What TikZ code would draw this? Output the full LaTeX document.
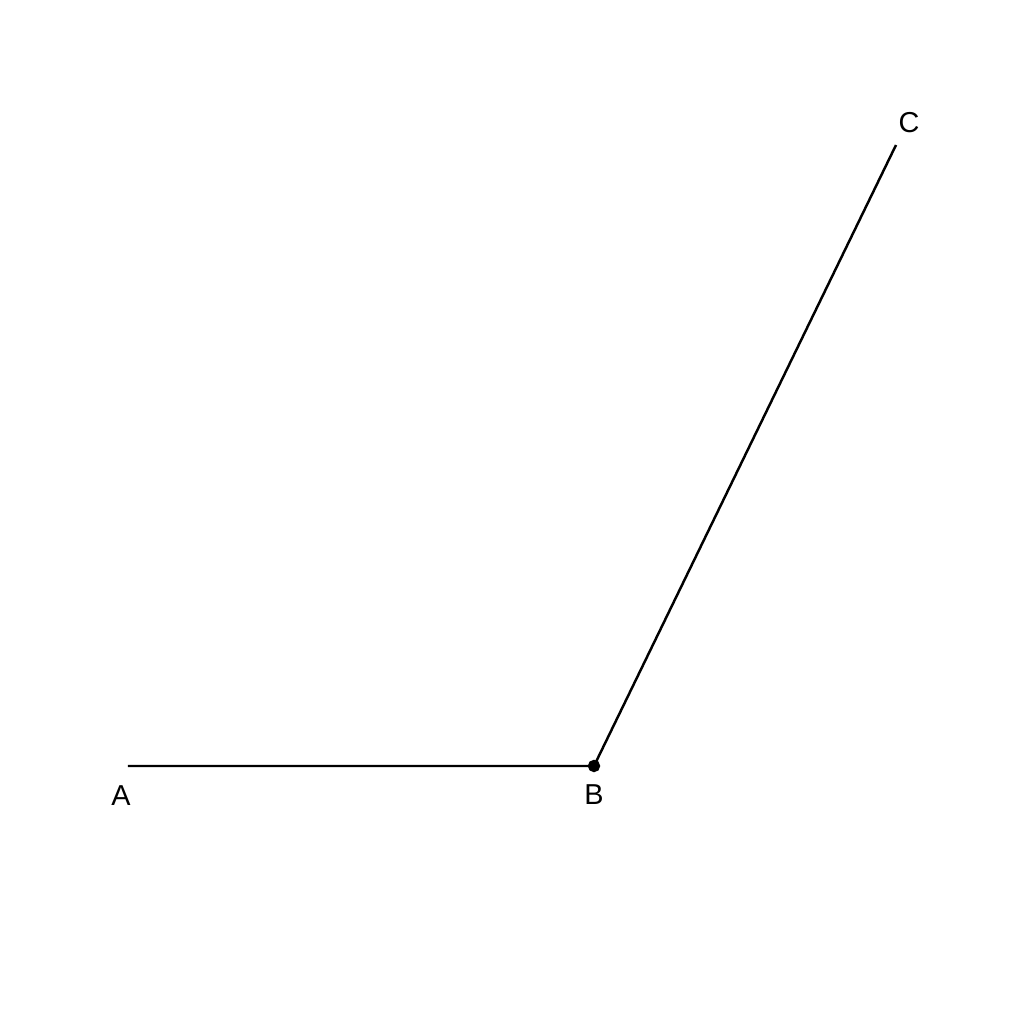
\documentclass[tikz,border=0pt]{standalone}
\usepackage{fontspec}
\setmainfont{Liberation Sans}
\usepackage{tikz}
\usetikzlibrary{positioning}

\begin{document}
\begin{tikzpicture}[every node/.style={font=\fontsize{8.2}{10}\selectfont}]
\useasboundingbox (0,0) rectangle (10.24,10.24);
\node[draw,shape=circle,fill=black,inner sep=0pt,minimum size=0.11cm] (b) at (5.94,2.58) {};
\coordinate[left = 4.6cm of b] (a);
\coordinate (c) at (8.96,8.79);
\node (la) at (1.21,2.28) {A};
\node (lb) at (5.94,2.29) {B};
\node (lc) at (9.09,9.01) {C};

\draw[line width=0.7pt] (a) -- (b.center) -- (c);
\end{tikzpicture}
\end{document}
